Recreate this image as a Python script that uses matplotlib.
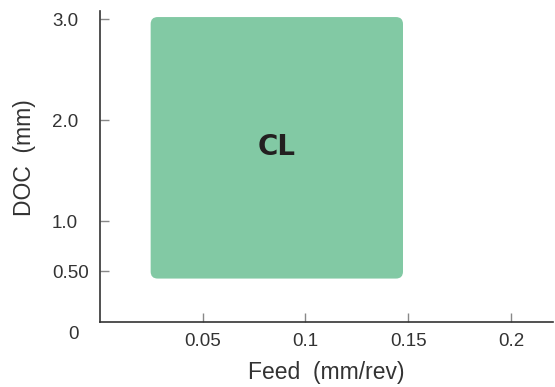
import matplotlib
matplotlib.use("Agg")
from matplotlib import pyplot as plt
from matplotlib.patches import FancyBboxPatch

# region limits
feed_range = [0.0247, 0.1475]
doc_range = [0.43, 3.02]
region_label = 'CL'
region_color = '#82C9A4'

xticks = [0.05, 0.1, 0.15, 0.2]
xticklabels = ['0.05', '0.1', '0.15', '0.2']
yticks = [0.5, 1.0, 2.0, 3.0]
yticklabels = ['0.50', '1.0', '2.0', '3.0']

plt.rcParams['font.family'] = ['Liberation Sans', 'DejaVu Sans']

fig = plt.figure(figsize=(5.55, 3.87), dpi=100)
ax = fig.add_axes([0.18, 0.168, 0.8164, 0.8036])
ax.set_xlim(0, 0.2205)
ax.set_ylim(0, 3.08)

# rounded rectangle, corner radius corrected for the axes aspect
w_px = ax.get_position().width * 555
h_px = ax.get_position().height * 387
x_per_px = 0.2205 / w_px
y_per_px = 3.08 / h_px
box = FancyBboxPatch((feed_range[0], doc_range[0]),
                     feed_range[1] - feed_range[0], doc_range[1] - doc_range[0],
                     boxstyle='round,pad=0,rounding_size=%f' % (7 * x_per_px),
                     mutation_aspect=y_per_px / x_per_px,
                     facecolor=region_color, edgecolor='none', zorder=1)
ax.add_patch(box)
ax.text((feed_range[0] + feed_range[1]) / 2, 1.73, region_label,
        ha='center', va='center', fontsize=20, fontweight='bold',
        color='#231F20', family=['DejaVu Sans'])

for s in ['top', 'right']:
    ax.spines[s].set_visible(False)
for s in ['left', 'bottom']:
    ax.spines[s].set_color('#333333')
    ax.spines[s].set_linewidth(1.2)

ax.set_xticks(xticks)
ax.set_xticklabels(xticklabels)
ax.set_yticks(yticks)
ax.set_yticklabels(yticklabels)
ax.tick_params(axis='both', direction='in', length=6.5, width=1, color='#888888',
               labelsize=13.5, labelcolor='#333333')
ax.tick_params(axis='x', pad=8)
ax.tick_params(axis='y', pad=34.5)
for lab in ax.get_yticklabels():
    lab.set_horizontalalignment('left')

ax.text(-0.046, -0.012, '0', transform=ax.transAxes, ha='right', va='top',
        fontsize=13.5, color='#333333')

ax.set_xlabel('Feed  (mm/rev)', fontsize=16.5, color='#333333', labelpad=8)
ax.set_ylabel('DOC  (mm)', fontsize=16.5, color='#333333')
ax.yaxis.set_label_coords(-0.14, 0.527)

fig.savefig('out.png', dpi=100)
